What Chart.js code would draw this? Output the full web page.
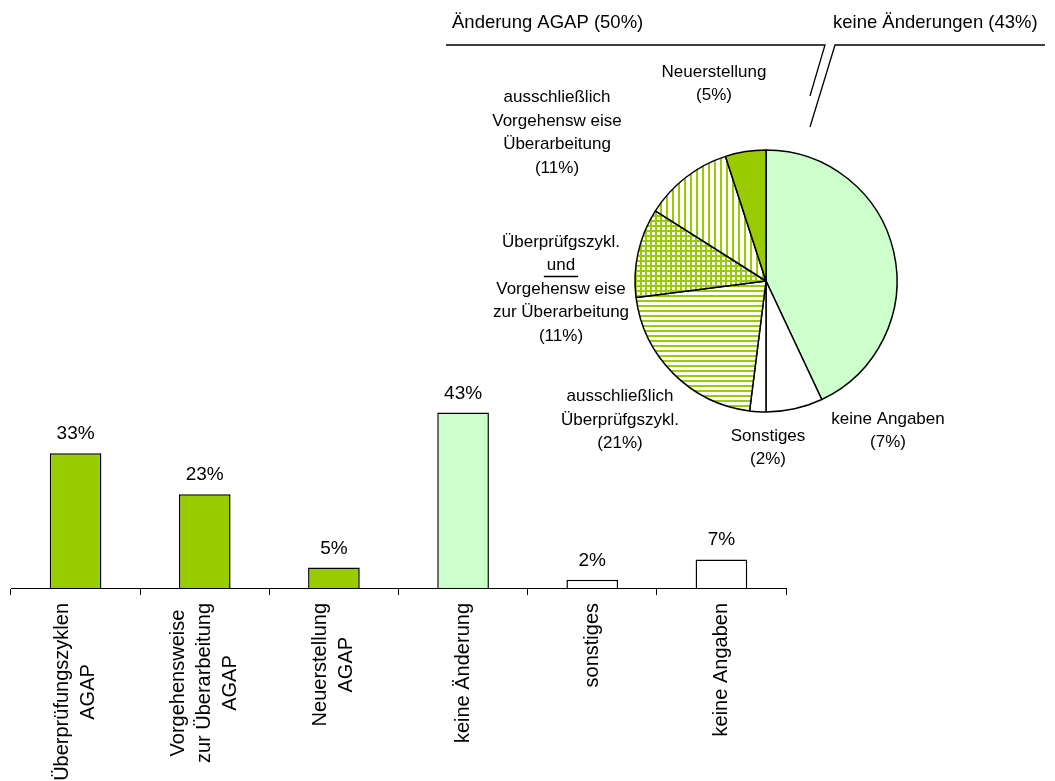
<!DOCTYPE html>
<html>
<head>
<meta charset="utf-8">
<script src="https://cdn.jsdelivr.net/npm/chart.js@4"></script>
<style>
  html, body { margin: 0; padding: 0; background: #fff; }
  #wrap { position: relative; width: 1055px; height: 781px; overflow: hidden; }
  #wrap canvas { position: absolute; left: 0; top: 0; }
  #pieChart { pointer-events: none; }
</style>
</head>
<body>
<div id="wrap">
  <canvas id="barChart" width="1055" height="781"></canvas>
  <canvas id="pieChart" width="1055" height="781"></canvas>
</div>
<script>
// bar chart data
const barCategories = [
  ["Überprüfungszyklen", "AGAP"],
  ["Vorgehensweise", "zur Überarbeitung", "AGAP"],
  ["Neuerstellung", "AGAP"],
  ["keine Änderung"],
  ["sonstiges"],
  ["keine Angaben"]
];
const barValues = [33, 23, 5, 43, 2, 7];

// pie chart data (clockwise from top)
const pieCategories = [
  "keine Änderung",
  "keine Angaben",
  "Sonstiges",
  "ausschließlich Überprüfgszykl.",
  "Überprüfgszykl. und Vorgehensweise zur Überarbeitung",
  "ausschließlich Vorgehensweise Überarbeitung",
  "Neuerstellung"
];
const pieValues = [43, 7, 2, 21, 11, 11, 5];
const pieLabelLines = [
  null,
  ["keine Angaben", "(7%)"],
  ["Sonstiges", "(2%)"],
  ["ausschließlich", "Überprüfgszykl.", "(21%)"],
  ["Überprüfgszykl.", "und", "Vorgehensw eise", "zur Überarbeitung", "(11%)"],
  ["ausschließlich", "Vorgehensw eise", "Überarbeitung", "(11%)"],
  ["Neuerstellung", "(5%)"]
];
const groupLabels = ["Änderung AGAP (50%)", "keine Änderungen (43%)"];

// colours
const GREEN = "#99CC00";
const LIGHT_GREEN = "#CCFFCC";
const barColors = [GREEN, GREEN, GREEN, LIGHT_GREEN, "#FFFFFF", "#FFFFFF"];

const FONT = "'Liberation Sans', Arial, sans-serif";

// pie label block centres, relative to the pie centre (px)
const pieLabelOffsets = [null, [122, 150], [2, 167], [-146, 139], [-205, 8], [-209, -148], [-52, -197]];

// hatch patterns like the Excel fills
function makePattern(kind) {
  const size = kind === "vertical" ? 6 : 5;
  const c = document.createElement("canvas");
  c.width = size;
  c.height = size;
  const g = c.getContext("2d");
  g.fillStyle = "#fff";
  g.fillRect(0, 0, size, size);
  g.fillStyle = GREEN;
  if (kind === "horizontal" || kind === "grid") g.fillRect(0, 0, size, 2);
  if (kind === "vertical" || kind === "grid") g.fillRect(0, 0, 2, size);
  return g.createPattern(c, "repeat");
}

const pieColors = [
  LIGHT_GREEN,
  "#FFFFFF",
  "#FFFFFF",
  makePattern("horizontal"),
  makePattern("grid"),
  makePattern("vertical"),
  GREEN
];

// value labels above bars + rotated multi-line category labels
const barLabelsPlugin = {
  id: "barLabels",
  afterDraw(chart) {
    const ctx = chart.ctx;
    const meta = chart.getDatasetMeta(0);
    const xScale = chart.scales.x;
    ctx.save();
    ctx.fillStyle = "#000";
    ctx.font = "19px " + FONT;
    ctx.textAlign = "center";
    ctx.textBaseline = "alphabetic";
    meta.data.forEach((bar, i) => {
      ctx.fillText(barValues[i] + "%", bar.x, bar.y - 14);
    });

    ctx.font = "20px " + FONT;
    ctx.textAlign = "center";
    ctx.textBaseline = "middle";
    const lineH = 26;
    const top = chart.chartArea.bottom + 15;
    barCategories.forEach((lines, i) => {
      const x = xScale.getPixelForValue(i);
      const longest = Math.max(...lines.map(l => ctx.measureText(l).width));
      ctx.save();
      ctx.translate(x, top);
      ctx.rotate(-Math.PI / 2);
      lines.forEach((line, j) => {
        ctx.fillText(line, -longest / 2, (j - (lines.length - 1) / 2) * lineH);
      });
      ctx.restore();
    });
    ctx.restore();
  }
};

new Chart(document.getElementById("barChart"), {
  type: "bar",
  data: {
    labels: barCategories.map(l => l.join(" ")),
    datasets: [{
      data: barValues,
      backgroundColor: barColors,
      borderColor: "#000",
      borderWidth: 1.5,
      barPercentage: 0.4,
      categoryPercentage: 1.0
    }]
  },
  options: {
    responsive: false,
    animation: false,
    layout: { padding: { left: 11, right: 269, top: 384, bottom: 186 } },
    plugins: { legend: { display: false }, tooltip: { enabled: false } },
    scales: {
      x: {
        grid: { display: true, offset: true, drawOnChartArea: false, drawTicks: true, tickLength: 7, color: "#000", lineWidth: 1 },
        border: { display: true, color: "#000", width: 1 },
        ticks: { display: false }
      },
      y: { display: false, min: 0, max: 50 }
    }
  },
  plugins: [barLabelsPlugin]
});

// pie labels and the two group headers
const pieLabelsPlugin = {
  id: "pieLabels",
  afterDraw(chart) {
    const ctx = chart.ctx;
    const arc = chart.getDatasetMeta(0).data[0];
    const cx = arc.x, cy = arc.y;
    ctx.save();
    ctx.fillStyle = "#000";
    ctx.strokeStyle = "#000";
    ctx.font = "17px " + FONT;
    ctx.textAlign = "center";
    ctx.textBaseline = "middle";
    const lineH = 23.5;
    pieLabelLines.forEach((lines, i) => {
      if (!lines) return;
      const bx = cx + pieLabelOffsets[i][0];
      const by = cy + pieLabelOffsets[i][1];
      lines.forEach((line, j) => {
        const y = by + (j - (lines.length - 1) / 2) * lineH;
        ctx.fillText(line, bx, y);
        if (line === "und") {
          const w = ctx.measureText(line).width;
          ctx.lineWidth = 1.3;
          ctx.beginPath();
          ctx.moveTo(bx - w / 2 - 3, y + 11);
          ctx.lineTo(bx + w / 2 + 3, y + 11);
          ctx.stroke();
        }
      });
    });

    // group headers
    ctx.font = "18.5px " + FONT;
    ctx.textAlign = "left";
    ctx.fillText(groupLabels[0], 452, 23);
    ctx.fillText(groupLabels[1], 833, 23);
    ctx.lineWidth = 1.3;
    ctx.beginPath();
    ctx.moveTo(446, 45);
    ctx.lineTo(825, 45);
    ctx.lineTo(810, 96);
    ctx.moveTo(1045, 45);
    ctx.lineTo(835, 45);
    ctx.lineTo(810, 127);
    ctx.stroke();
    ctx.restore();
  }
};

new Chart(document.getElementById("pieChart"), {
  type: "pie",
  data: {
    labels: pieCategories,
    datasets: [{
      data: pieValues,
      backgroundColor: pieColors,
      borderColor: "#000",
      borderWidth: 1.5,
      radius: 131
    }]
  },
  options: {
    responsive: false,
    animation: false,
    events: [],
    layout: { padding: { left: 616, right: 139, top: 131, bottom: 350 } },
    plugins: { legend: { display: false }, tooltip: { enabled: false } }
  },
  plugins: [pieLabelsPlugin]
});
</script>
</body>
</html>
